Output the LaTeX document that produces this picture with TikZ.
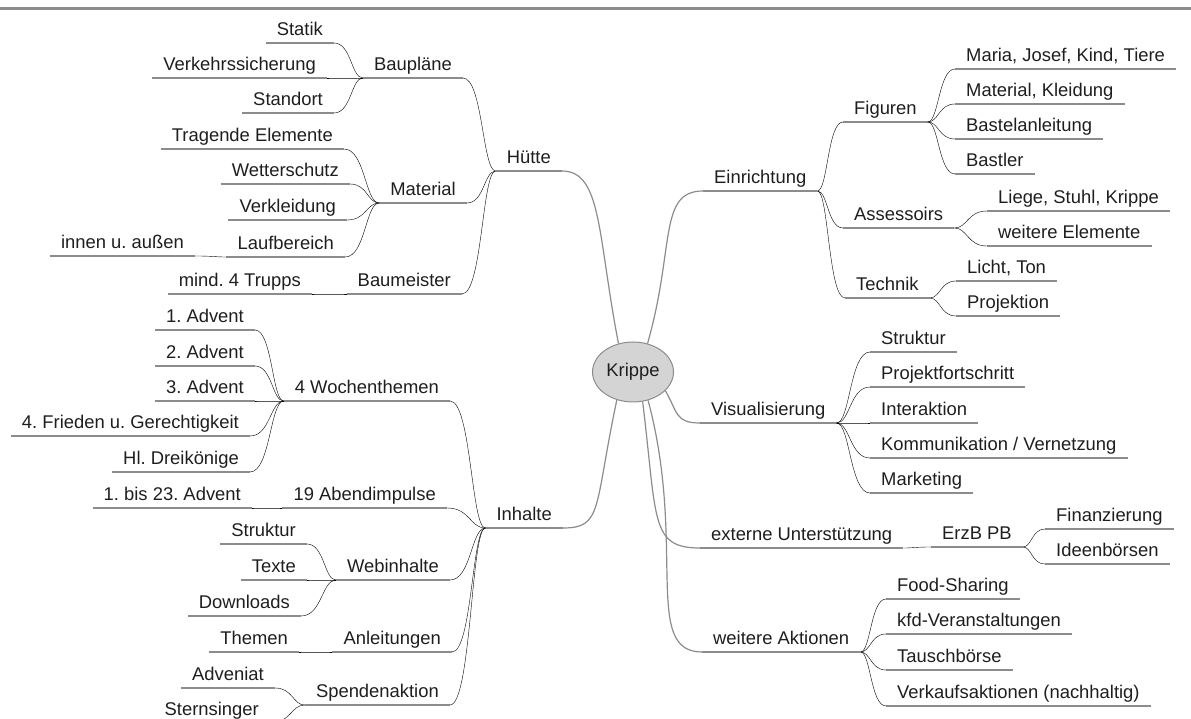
\documentclass[tikz,border=0pt]{standalone}
\usepackage{fontspec}
\setmainfont{Liberation Sans}
\usetikzlibrary{calc,shapes.geometric}
\definecolor{linegray}{HTML}{8C8C8C}
\definecolor{textdark}{HTML}{1E1E1E}
\definecolor{rootfill}{HTML}{D4D4D4}
\frenchspacing

\begin{document}
\begin{tikzpicture}[x=1pt, y=1pt,
    mapline/.style={draw=linegray, line width=1.2pt},
    topic/.style={inner xsep=11pt, inner ysep=3pt, text height=13.5pt, text depth=4pt,
        text=textdark, font=\fontsize{18.4}{22}\selectfont,
        append after command={(\tikzlastnode.south west) edge[mapline] (\tikzlastnode.south east)}},
    lefttopic/.style={topic, anchor=south east},
    righttopic/.style={topic, anchor=south west},
    branch/.style={mapline, to path={.. controls ($(\tikztostart)!0.4!(\tikztotarget|-\tikztostart)$)
        and ($(\tikztostart|-\tikztotarget)!0.4!(\tikztotarget)$) .. (\tikztotarget)}}]
        \useasboundingbox (0,0) rectangle (1191,718);
        \clip (0,0) rectangle (1191,718);

        % Rule at the top
        \draw[linegray, line width=3pt] (0,709) -- (1191,709);

        % Root
        \node[ellipse, draw=linegray, fill=rootfill, line width=1pt, minimum width=81pt,
            minimum height=60pt, inner sep=0pt, text=textdark,
            font=\fontsize{18.4}{22}\selectfont] (krippe) at (633,346) {Krippe};

        % Huette
        \node[lefttopic] (huette) at (562,547) {Hütte};
        \node[lefttopic] (bauplaene) at (463,640) {Baupläne};
        \node[lefttopic] (material) at (467,515) {Material};
        \node[lefttopic] (baumeister) at (462,424) {Baumeister};
        \node[lefttopic] (statik) at (334,675) {Statik};
        \node[lefttopic] (verkehr) at (327,640) {Verkehrssicherung};
        \node[lefttopic] (standort) at (334,605) {Standort};
        \node[lefttopic] (tragend) at (344,569) {Tragende Elemente};
        \node[lefttopic] (wetter) at (350,534) {Wetterschutz};
        \node[lefttopic] (verkleid) at (347,498) {Verkleidung};
        \node[lefttopic] (lauf) at (345,461) {Laufbereich};
        \node[lefttopic] (innen) at (195,462) {innen u. außen};
        \node[lefttopic] (trupps) at (312,424) {mind. 4 Trupps};
        \draw[mapline] (krippe.117) .. controls +(101:110) and +(40,0) .. (huette.south east);
        \draw (huette.south west) to[branch] (bauplaene.south east);
        \draw (huette.south west) to[branch] (material.south east);
        \draw (huette.south west) to[branch] (baumeister.south east);
        \draw (bauplaene.south west) to[branch] (statik.south east);
        \draw (bauplaene.south west) to[branch] (verkehr.south east);
        \draw (bauplaene.south west) to[branch] (standort.south east);
        \draw (material.south west) to[branch] (tragend.south east);
        \draw (material.south west) to[branch] (wetter.south east);
        \draw (material.south west) to[branch] (verkleid.south east);
        \draw (material.south west) to[branch] (lauf.south east);
        \draw (lauf.south west) to[branch] (innen.south east);
        \draw (baumeister.south west) to[branch] (trupps.south east);

        % Inhalte
        \node[lefttopic] (inhalte) at (563,190) {Inhalte};
        \node[lefttopic] (wochen) at (450,317) {4 Wochenthemen};
        \node[lefttopic] (abend) at (447,210) {19 Abendimpulse};
        \node[lefttopic] (web) at (450,138) {Webinhalte};
        \node[lefttopic] (anleit) at (452,66) {Anleitungen};
        \node[lefttopic] (spende) at (450,13) {Spendenaktion};
        \node[lefttopic] (advent1) at (255,388) {1. Advent};
        \node[lefttopic] (advent2) at (255,352) {2. Advent};
        \node[lefttopic] (advent3) at (255,317) {3. Advent};
        \node[lefttopic] (frieden) at (250,282) {4. Frieden u. Gerechtigkeit};
        \node[lefttopic] (dreik) at (250,246) {Hl. Dreikönige};
        \node[lefttopic] (bis23) at (252,210) {1. bis 23. Advent};
        \node[lefttopic] (struktur) at (307,174) {Struktur};
        \node[lefttopic] (texte) at (307,138) {Texte};
        \node[lefttopic] (downloads) at (301,102) {Downloads};
        \node[lefttopic] (themen) at (299,66) {Themen};
        \node[lefttopic] (adveniat) at (275,30) {Adveniat};
        \node[lefttopic] (sterns) at (270,-5) {Sternsinger};
        \draw[mapline] (krippe.240) .. controls +(258:110) and +(40,0) .. (inhalte.south east);
        \draw (inhalte.south west) to[branch] (wochen.south east);
        \draw (inhalte.south west) to[branch] (abend.south east);
        \draw (inhalte.south west) to[branch] (web.south east);
        \draw (inhalte.south west) to[branch] (anleit.south east);
        \draw (inhalte.south west) to[branch] (spende.south east);
        \draw (wochen.south west) to[branch] (advent1.south east);
        \draw (wochen.south west) to[branch] (advent2.south east);
        \draw (wochen.south west) to[branch] (advent3.south east);
        \draw (wochen.south west) to[branch] (frieden.south east);
        \draw (wochen.south west) to[branch] (dreik.south east);
        \draw (abend.south west) to[branch] (bis23.south east);
        \draw (web.south west) to[branch] (struktur.south east);
        \draw (web.south west) to[branch] (texte.south east);
        \draw (web.south west) to[branch] (downloads.south east);
        \draw (anleit.south west) to[branch] (themen.south east);
        \draw (spende.south west) to[branch] (adveniat.south east);
        \draw (spende.south west) to[branch] (sterns.south east);

        % Einrichtung
        \node[righttopic] (einr) at (703,527) {Einrichtung};
        \node[righttopic] (figuren) at (843,596) {Figuren};
        \node[righttopic] (assess) at (843,490) {Assessoirs};
        \node[righttopic] (technik) at (845,420) {Technik};
        \node[righttopic] (maria) at (955,649) {Maria, Josef, Kind, Tiere};
        \node[righttopic] (kleidung) at (955,614) {Material, Kleidung};
        \node[righttopic] (bastel) at (955,579) {Bastelanleitung};
        \node[righttopic] (bastler) at (955,544) {Bastler};
        \node[righttopic] (liege) at (987,507) {Liege, Stuhl, Krippe};
        \node[righttopic] (weitereel) at (987,472) {weitere Elemente};
        \node[righttopic] (licht) at (956,437) {Licht, Ton};
        \node[righttopic] (projektion) at (956,402) {Projektion};
        \draw[mapline] (krippe.63) .. controls +(74:100) and +(-45,0) .. (einr.south west);
        \draw (einr.south east) to[branch] (figuren.south west);
        \draw (einr.south east) to[branch] (assess.south west);
        \draw (einr.south east) to[branch] (technik.south west);
        \draw (figuren.south east) to[branch] (maria.south west);
        \draw (figuren.south east) to[branch] (kleidung.south west);
        \draw (figuren.south east) to[branch] (bastel.south west);
        \draw (figuren.south east) to[branch] (bastler.south west);
        \draw (assess.south east) to[branch] (liege.south west);
        \draw (assess.south east) to[branch] (weitereel.south west);
        \draw (technik.south east) to[branch] (licht.south west);
        \draw (technik.south east) to[branch] (projektion.south west);

        % Visualisierung
        \node[righttopic] (visu) at (700,295) {Visualisierung};
        \node[righttopic] (vstruktur) at (870,366) {Struktur};
        \node[righttopic] (fortschritt) at (870,331) {Projektfortschritt};
        \node[righttopic] (interakt) at (870,295) {Interaktion};
        \node[righttopic] (kommuni) at (870,260) {Kommunikation / Vernetzung};
        \node[righttopic] (marketing) at (870,225) {Marketing};
        \draw[mapline] (krippe.-30) .. controls +(-60:25) and +(-25,0) .. (visu.south west);
        \draw (visu.south east) to[branch] (vstruktur.south west);
        \draw (visu.south east) to[branch] (fortschritt.south west);
        \draw (visu.south east) to[branch] (interakt.south west);
        \draw (visu.south east) to[branch] (kommuni.south west);
        \draw (visu.south east) to[branch] (marketing.south west);

        % externe Unterstuetzung
        \node[righttopic] (extern) at (700,170) {externe Unterstützung};
        \node[righttopic] (erzb) at (931,171) {ErzB PB};
        \node[righttopic] (finanz) at (1045,189) {Finanzierung};
        \node[righttopic] (ideen) at (1045,154) {Ideenbörsen};
        \draw[mapline] (krippe.-72) .. controls +(-83:120) and +(-50,0) .. (extern.south west);
        \draw (extern.south east) to[branch] (erzb.south west);
        \draw (erzb.south east) to[branch] (finanz.south west);
        \draw (erzb.south east) to[branch] (ideen.south west);

        % weitere Aktionen
        \node[righttopic] (aktionen) at (702,66) {weitere Aktionen};
        \node[righttopic] (food) at (886,119) {Food-Sharing};
        \node[righttopic] (kfd) at (886,84) {kfd-Veranstaltungen};
        \node[righttopic] (tausch) at (886,48) {Tauschbörse};
        \node[righttopic] (verkauf) at (886,12) {Verkaufsaktionen (nachhaltig)};
        \draw[mapline] (krippe.-62) .. controls +(-75:150) and +(-60,0) .. (aktionen.south west);
        \draw (aktionen.south east) to[branch] (food.south west);
        \draw (aktionen.south east) to[branch] (kfd.south west);
        \draw (aktionen.south east) to[branch] (tausch.south west);
        \draw (aktionen.south east) to[branch] (verkauf.south west);
    \end{tikzpicture}
\end{document}
